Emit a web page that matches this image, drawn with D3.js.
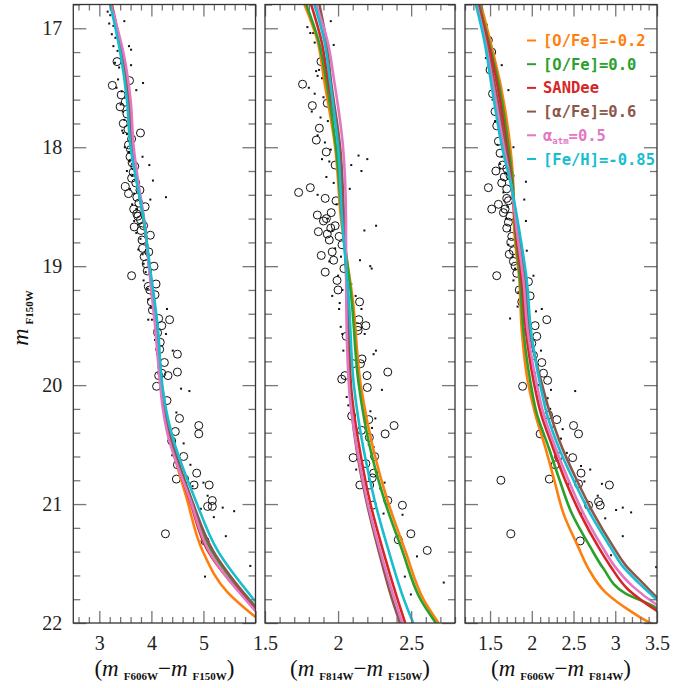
<!DOCTYPE html>
<html>
<head>
<meta charset="utf-8">
<script src="https://cdn.jsdelivr.net/npm/d3@7"></script>
<style>body{margin:0;background:#fff}</style>
</head>
<body>
<div id="chart"></div>
<script>
// モデル名と凡例
var MODELS = ['[O/Fe]=-0.2', '[O/Fe]=0.0', 'SANDee', '[α/Fe]=0.6', 'α_atm=0.5', '[Fe/H]=-0.85'];
var COLORS = ['#ff7f0e', '#2ca02c', '#d62728', '#8c564b', '#e377c2', '#17becf'];

var MAG_TICKS = [17, 18, 19, 20, 21, 22];
var TICKS1 = [3, 4, 5];
var TICKS2 = [1.5, 2, 2.5];
var TICKS3 = [1.5, 2, 2.5, 3, 3.5];

// 等時線 [色, 等級]  パネル1: F606W-F150W
var ISO1 = [
  [[3.22,16.8],[3.42,17.2],[3.55,17.6],[3.62,18.0],[3.73,18.3],[3.85,18.6],[3.96,19.0],[4.10,19.5],[4.19,20.0],[4.25,20.2],[4.34,20.41],[4.69,20.97],[4.98,21.39],[5.46,21.74],[6.0,21.95]],
  [[3.22,16.8],[3.42,17.2],[3.55,17.6],[3.62,18.0],[3.73,18.3],[3.85,18.6],[3.96,19.0],[4.10,19.5],[4.19,20.0],[4.26,20.2],[4.36,20.41],[4.77,20.97],[5.15,21.39],[6.0,21.86]],
  [[3.24,16.8],[3.43,17.2],[3.56,17.6],[3.63,18.0],[3.73,18.3],[3.85,18.6],[3.96,19.0],[4.09,19.5],[4.18,20.0],[4.24,20.2],[4.33,20.41],[4.74,20.97],[5.08,21.39],[6.0,21.88]],
  [[3.22,16.8],[3.42,17.2],[3.55,17.6],[3.62,18.0],[3.73,18.3],[3.85,18.6],[3.96,19.0],[4.10,19.5],[4.20,20.0],[4.27,20.2],[4.36,20.41],[4.78,20.97],[5.18,21.39],[6.0,21.87]],
  [[3.22,16.8],[3.46,17.2],[3.60,17.6],[3.66,18.0],[3.75,18.3],[3.86,18.6],[3.95,19.0],[4.07,19.5],[4.17,20.0],[4.22,20.2],[4.31,20.41],[4.75,20.97],[5.10,21.39],[6.0,21.9]],
  [[3.21,16.8],[3.40,17.2],[3.53,17.6],[3.60,18.0],[3.72,18.3],[3.85,18.6],[3.97,19.0],[4.12,19.5],[4.21,20.0],[4.28,20.2],[4.39,20.41],[4.85,20.97],[5.27,21.39],[6.0,21.82]]
];
// パネル2: F814W-F150W
var ISO2 = [
  [[1.770,16.8],[1.858,17.1],[1.905,17.44],[1.980,18.0],[2.020,18.6],[2.101,19.29],[2.155,20.0],[2.243,20.55],[2.338,20.97],[2.459,21.39],[2.588,21.81],[2.687,22.0]],
  [[1.782,16.8],[1.865,17.1],[1.919,17.44],[1.986,18.0],[2.027,18.6],[2.093,19.29],[2.142,20.0],[2.223,20.55],[2.318,20.97],[2.439,21.39],[2.568,21.81],[2.669,22.0]],
  [[1.816,16.8],[1.885,17.1],[1.932,17.44],[2.007,18.0],[2.034,18.6],[2.068,19.29],[2.088,20.0],[2.149,20.55],[2.216,20.97],[2.307,21.39],[2.409,21.81],[2.459,22.0]],
  [[1.872,16.8],[1.919,17.1],[1.951,17.44],[2.014,18.0],[2.041,18.6],[2.061,19.29],[2.078,20.0],[2.128,20.55],[2.193,20.97],[2.277,21.39],[2.372,21.81],[2.424,22.0]],
  [[1.849,16.8],[1.926,17.1],[1.973,17.44],[2.034,18.0],[2.054,18.6],[2.056,19.29],[2.074,20.0],[2.132,20.55],[2.199,20.97],[2.287,21.39],[2.389,21.81],[2.439,22.0]],
  [[1.838,16.8],[1.905,17.1],[1.944,17.44],[2.000,18.0],[2.027,18.6],[2.074,19.29],[2.108,20.0],[2.176,20.55],[2.250,20.97],[2.345,21.39],[2.453,21.81],[2.514,22.0]]
];
// パネル3: F606W-F814W
var ISO3 = [
  [[1.39,16.8],[1.50,17.1],[1.63,17.49],[1.75,18.05],[1.776,18.28],[1.79,18.7],[1.852,19.12],[1.88,19.54],[1.95,19.96],[2.04,20.24],[2.16,20.52],[2.27,20.8],[2.38,21.08],[2.556,21.36],[2.676,21.54],[2.88,21.74],[3.16,21.89],[3.42,22.0],[3.55,22.04]],
  [[1.37,16.8],[1.48,17.1],[1.61,17.49],[1.73,18.05],[1.77,18.28],[1.80,18.7],[1.86,19.12],[1.90,19.54],[1.98,19.96],[2.06,20.24],[2.20,20.52],[2.334,20.8],[2.48,21.08],[2.70,21.36],[2.856,21.54],[3.12,21.75],[3.46,21.86],[3.55,21.9]],
  [[1.36,16.8],[1.47,17.1],[1.59,17.49],[1.71,18.05],[1.755,18.28],[1.81,18.7],[1.88,19.12],[1.93,19.54],[2.02,19.96],[2.11,20.24],[2.25,20.52],[2.40,20.8],[2.58,21.08],[2.797,21.36],[2.94,21.52],[3.157,21.72],[3.505,21.9],[3.55,21.92]],
  [[1.35,16.8],[1.45,17.1],[1.56,17.49],[1.70,18.05],[1.75,18.28],[1.83,18.7],[1.92,19.12],[1.97,19.54],[2.11,19.96],[2.22,20.24],[2.36,20.52],[2.54,20.8],[2.74,21.08],[2.977,21.36],[3.13,21.52],[3.31,21.65],[3.505,21.79],[3.55,21.82]],
  [[1.34,16.8],[1.44,17.1],[1.54,17.49],[1.68,18.05],[1.745,18.28],[1.82,18.7],[1.90,19.12],[1.95,19.54],[2.05,19.96],[2.14,20.24],[2.28,20.52],[2.44,20.8],[2.62,21.08],[2.845,21.36],[2.99,21.52],[3.206,21.69],[3.505,21.85],[3.55,21.87]],
  [[1.33,16.8],[1.43,17.1],[1.52,17.49],[1.66,18.05],[1.74,18.28],[1.85,18.7],[1.94,19.12],[1.99,19.54],[2.09,19.96],[2.18,20.24],[2.32,20.52],[2.50,20.8],[2.70,21.08],[2.94,21.36],[3.085,21.52],[3.277,21.66],[3.505,21.81],[3.55,21.84]]
];

// 観測点: 白丸と小点
var CIRC1 = [[3.34,17.28],[3.25,17.48],[3.42,17.56],[3.58,17.44],[3.40,17.66],[3.46,17.80],[3.79,17.88],[3.56,17.98],[3.59,18.08],[3.65,18.21],[3.50,18.33],[3.56,18.39],[3.66,18.52],[3.67,18.67],[3.79,18.61],[3.98,18.74],[3.82,18.78],[3.72,18.56],[3.62,19.08],[4.09,19.15],[3.94,19.17],[4.07,19.24],[4.14,19.44],[4.35,19.45],[4.20,19.50],[4.17,19.64],[4.50,19.74],[4.25,19.81],[4.50,19.89],[4.32,19.92],[4.14,19.92],[4.10,20.01],[4.30,20.13],[4.54,20.28],[4.46,20.39],[4.91,20.34],[4.91,20.41],[4.39,20.47],[4.62,20.60],[4.50,20.67],[4.87,20.74],[4.48,20.79],[4.64,20.79],[4.82,20.84],[5.11,20.84],[5.17,20.97],[5.08,21.02],[5.17,21.02],[4.27,21.25],[5.03,21.31],
  [3.50,17.62],[3.53,17.72],[3.55,17.85],[3.62,17.93],[3.60,18.02],[3.63,18.13],[3.68,18.16],[3.62,18.26],[3.70,18.30],[3.72,18.42],[3.76,18.47],[3.74,18.58],[3.80,18.70],[3.83,18.85],[3.86,18.92],[3.90,18.98],[3.88,18.50],[3.78,18.36],[3.85,18.66],[3.92,19.04],[3.97,19.20],[4.00,19.30],[4.02,19.37],[4.12,19.56],[4.16,19.70],[4.20,19.90],[4.05,19.00],[3.95,18.88]];
var DOT1 = [[3.48,16.94],[3.57,17.15],[3.61,17.18],[3.61,17.31],[3.84,17.46],[3.71,17.52],[3.96,18.15],[4.03,18.28],[3.98,18.44],[4.28,18.42],[3.83,18.08],[3.46,17.88],[4.30,19.36],[4.57,20.03],[4.73,20.05],[4.41,19.71],[3.94,19.45],[4.28,19.57],[4.48,20.23],[4.62,20.49],[4.40,20.59],[4.75,20.67],[5.00,20.82],[5.37,21.03],[5.59,21.06],[5.20,21.11],[5.43,21.27],[5.90,21.52],[5.03,21.61],[4.95,21.04],[5.08,20.93],[4.79,20.85],
  [3.16,16.86],[3.21,16.89],[3.19,16.96],[3.27,16.98],[3.24,17.05],[3.31,17.08],[3.27,17.15],[3.35,17.19],[3.30,17.29],[3.38,17.33],[3.36,17.43],[3.33,17.50],[3.43,17.53],[3.41,17.64],[3.45,17.70],[3.48,17.77],[3.44,17.86],[3.53,17.89],[3.49,18.00],[3.57,18.04],[3.58,18.12],[3.53,18.20],[3.63,18.24],[3.59,18.35],[3.67,18.39],[3.63,18.48],[3.71,18.52],[3.67,18.62],[3.75,18.65],[3.71,18.72],[3.79,18.77],[3.75,18.86],[3.83,18.90],[3.85,18.98],[3.89,19.05],[3.85,19.12],[3.93,19.19],[3.94,19.28],[3.99,19.35],[4.01,19.45],[4.06,19.54],[4.07,19.62],[4.11,19.74],[4.14,19.85],[4.19,19.94],[4.22,20.05],[4.27,20.20],[4.31,20.34],[4.38,20.50],[4.45,20.60]];

var CIRC2 = [[1.757,17.47],[1.883,17.28],[1.824,17.65],[1.926,17.63],[1.872,17.84],[1.851,17.94],[1.919,18.04],[1.98,18.15],[1.81,18.34],[1.73,18.38],[1.912,18.43],[1.858,18.57],[1.953,18.55],[1.98,18.66],[1.926,18.73],[2.007,18.75],[1.885,18.91],[1.96,18.88],[1.912,19.05],[1.993,19.12],[2.04,19.02],[1.94,18.78],[1.865,18.71],[1.986,18.45],[2.027,18.82],[1.90,18.62],[1.95,18.68],[1.92,18.60],[1.97,18.95],[2.00,19.20],
  [2.147,19.30],[2.142,19.45],[2.19,19.50],[2.135,19.51],[2.137,19.54],[2.056,19.59],[2.164,19.78],[2.153,19.82],[2.103,19.82],[2.34,19.89],[2.047,19.92],[2.025,19.95],[2.198,19.92],[2.20,20.02],[2.093,20.26],[2.21,20.29],[2.383,20.34],[2.322,20.41],[2.16,20.38],[2.214,20.44],[2.103,20.61],[2.25,20.60],[2.19,20.66],[2.243,20.74],[2.234,20.78],[2.149,20.84],[2.216,20.84],[2.34,20.97],[2.44,21.01],[2.236,21.01],[2.498,21.25],[2.412,21.30],[2.61,21.39]];
var DOT2 = [[2.011,19.31],[2.007,19.36],[2.16,19.36],[2.018,19.51],[2.029,19.57],[2.182,19.57],[2.036,19.71],[2.243,19.74],[2.259,19.71],[2.30,20.04],[2.059,20.10],[2.07,20.17],[2.221,20.22],[2.255,20.28],[2.232,20.36],[2.21,20.50],[2.243,20.52],[2.124,20.71],[2.147,20.68],[2.318,20.82],[2.289,20.87],[2.311,21.08],[2.363,21.06],[2.441,21.09],[2.54,21.44],[2.457,21.61],[2.723,21.66],[2.498,21.76],
  [1.79,16.99],[1.81,17.04],[1.83,17.04],[1.84,17.12],[1.88,17.18],[1.95,16.94],[1.97,17.14],[1.87,17.35],[1.85,17.36],[1.86,17.40],[1.89,17.42],[1.80,17.50],[1.84,17.55],[1.90,17.58],[1.82,17.70],[1.88,17.75],[1.93,17.78],[1.86,17.90],[1.91,17.96],[1.95,18.02],[1.89,18.10],[1.94,18.12],[2.00,18.20],[1.92,18.25],[1.97,18.30],[1.86,18.40],[1.99,18.48],[2.05,18.52],[1.93,18.60],[2.02,18.62],[1.96,18.70],[2.04,18.78],[1.98,18.85],[2.02,18.92],[1.94,18.96],[2.06,19.00],[2.00,19.08],[2.09,19.15],[2.03,19.20],[1.96,19.25],[2.20,18.10],[2.16,18.20],[2.26,18.66],[2.08,18.35],[2.22,19.00],[2.15,18.95],[2.12,19.25],[2.14,18.07],[2.09,18.15],[2.23,19.02],[2.18,18.70]];

var CIRC3 = [[1.48,18.34],[1.52,18.52],[1.58,19.08],[1.68,18.52],[1.72,18.63],[1.76,18.75],[1.78,18.87],[1.78,18.96],[1.70,18.43],[1.96,19.13],[1.98,19.25],[2.18,19.45],[2.04,19.50],[2.06,19.59],[2.12,19.81],[2.14,19.90],[2.19,19.96],[1.89,20.01],[2.30,20.29],[2.20,20.25],[2.50,20.34],[2.56,20.41],[2.10,20.41],[2.49,20.61],[2.28,20.67],[2.32,20.60],[2.59,20.74],[2.21,20.79],[1.63,20.80],[2.56,20.83],[2.93,20.84],[2.68,21.01],[2.80,20.98],[2.82,21.01],[1.75,21.25],[2.58,21.31],
  [1.50,17.35],[1.53,17.55],[1.56,17.70],[1.58,17.82],[1.60,17.95],[1.62,18.05],[1.65,18.15],[1.67,18.25],[1.64,18.30],[1.70,18.35],[1.72,18.45],[1.66,18.55],[1.74,18.58],[1.70,18.68],[1.75,18.80],[1.73,18.90],[1.80,19.00],[1.82,19.06],[1.85,19.20],[1.88,19.30],[1.92,19.40],[1.95,19.55],[2.00,19.65],[2.02,19.75],[1.52,17.20],[1.48,17.10],[1.60,18.48],[1.57,18.20],[1.74,18.24],[1.70,18.18]];
var DOT3 = [[1.93,18.29],[1.91,18.44],[1.93,18.62],[1.94,18.87],[2.02,19.08],[1.74,19.44],[1.83,19.34],[2.12,19.36],[2.05,19.38],[2.11,19.71],[2.23,20.04],[2.19,20.11],[2.52,20.05],[2.37,20.37],[2.42,20.57],[2.59,20.68],[2.70,20.71],[2.44,20.83],[2.63,20.81],[2.84,20.83],[2.79,20.93],[3.01,21.05],[3.09,21.03],[3.19,21.07],[2.88,21.12],[3.09,21.27],[2.59,21.08],[2.95,21.43],[3.49,21.53],
  [1.46,16.97],[1.54,17.21],[1.64,17.31],[1.72,17.52],[1.66,17.75],[1.72,17.94],[1.78,18.00],[1.62,18.14],
  [1.38,16.85],[1.40,16.92],[1.42,16.98],[1.44,17.05],[1.47,17.12],[1.49,17.18],[1.45,17.25],[1.52,17.28],[1.50,17.40],[1.55,17.45],[1.53,17.60],[1.58,17.65],[1.56,17.78],[1.61,17.88],[1.59,17.98],[1.64,18.08],[1.62,18.18],[1.68,18.22],[1.66,18.38],[1.71,18.50],[1.69,18.60],[1.74,18.70],[1.72,18.82],[1.77,18.92],[1.80,19.02],[1.78,19.12],[1.84,19.22],[1.86,19.30],[1.90,19.45],[1.94,19.50],[1.97,19.62],[2.00,19.80],[2.04,19.90],[2.08,20.00],[2.15,20.15],[2.22,20.20],[2.26,20.35],[2.35,20.45]];

var SUB1 = ['F606W', 'F150W'];
var SUB2 = ['F814W', 'F150W'];
var SUB3 = ['F606W', 'F814W'];

(function () {
    'use strict';
    var W = 673, H = 688, top = 4.5, bot = 623;
    var SERIF = 'Liberation Serif, Times New Roman, serif';

    var svg = d3.select('#chart').append('svg')
        .attr('width', W).attr('height', H).style('background', '#fff');

    var y = d3.scaleLinear().domain([16.8, 22]).range([top, bot]);

    var panels = [
        {x0: 73.3, x1: 255.5, dom: [2.5, 6.0], minor: 0.2, major: 1, labels: TICKS1, iso: ISO1, circ: CIRC1, dots: DOT1, sub: SUB1},
        {x0: 265, x1: 455, dom: [1.5, 2.8], minor: 0.1, major: 0.5, labels: TICKS2, iso: ISO2, circ: CIRC2, dots: DOT2, sub: SUB2},
        {x0: 465, x1: 657, dom: [1.2, 3.5], minor: 0.1, major: 0.5, labels: TICKS3, iso: ISO3, circ: CIRC3, dots: DOT3, sub: SUB3}
    ];

    function ticksBetween(a, b, step) {
        var out = [];
        for (var v = Math.ceil(a / step - 1e-6) * step; v <= b + 1e-6; v += step) out.push(+v.toFixed(4));
        return out;
    }
    function styleTicks(g) {
        g.select('.domain').remove();
        g.selectAll('.tick line').attr('stroke', '#777').attr('stroke-width', 1.3);
    }

    var magMinor = ticksBetween(16.8, 22, 0.2).filter(function (v) { return Math.abs(v - Math.round(v)) > 1e-6; });
    var magMajor = ticksBetween(16.8, 22, 1);

    panels.forEach(function (p, k) {
        var x = d3.scaleLinear().domain(p.dom).range([p.x0, p.x1]);
        var xMinor = ticksBetween(p.dom[0], p.dom[1], p.minor).filter(function (v) {
            return Math.abs(v / p.major - Math.round(v / p.major)) > 1e-6;
        });
        var xMajor = ticksBetween(p.dom[0], p.dom[1], p.major);

        var clipId = 'clip' + k;
        svg.append('clipPath').attr('id', clipId).append('rect')
            .attr('x', p.x0).attr('y', top).attr('width', p.x1 - p.x0).attr('height', bot - top);
        var g = svg.append('g').attr('clip-path', 'url(#' + clipId + ')');

        // 小点
        g.selectAll(null).data(p.dots).enter().append('rect')
            .attr('x', function (d) { return x(d[0]) - 1; })
            .attr('y', function (d) { return y(d[1]) - 1; })
            .attr('width', 2).attr('height', 2).attr('fill', '#111');
        // 白丸
        g.selectAll(null).data(p.circ).enter().append('circle')
            .attr('cx', function (d) { return x(d[0]); })
            .attr('cy', function (d) { return y(d[1]); })
            .attr('r', 4).attr('fill', 'none').attr('stroke', '#111').attr('stroke-width', 1);

        // 等時線 (等級方向に単調なので monotoneY)
        var line = d3.line()
            .x(function (d) { return x(d[0]); })
            .y(function (d) { return y(d[1]); })
            .curve(d3.curveMonotoneY);
        p.iso.forEach(function (pts, i) {
            g.append('path').datum(pts).attr('d', line)
                .attr('fill', 'none').attr('stroke', COLORS[i]).attr('stroke-width', 2.6)
                .attr('stroke-linejoin', 'round');
        });

        // 目盛り (内向き)
        [[d3.axisBottom, bot], [d3.axisTop, top]].forEach(function (a) {
            svg.append('g').attr('transform', 'translate(0,' + a[1] + ')')
                .call(a[0](x).tickValues(xMinor).tickSize(-6).tickFormat('')).call(styleTicks);
            svg.append('g').attr('transform', 'translate(0,' + a[1] + ')')
                .call(a[0](x).tickValues(xMajor).tickSize(-12).tickFormat('')).call(styleTicks);
        });
        [[d3.axisLeft, p.x0], [d3.axisRight, p.x1]].forEach(function (a) {
            svg.append('g').attr('transform', 'translate(' + a[1] + ',0)')
                .call(a[0](y).tickValues(magMinor).tickSize(-7).tickFormat('')).call(styleTicks);
            svg.append('g').attr('transform', 'translate(' + a[1] + ',0)')
                .call(a[0](y).tickValues(magMajor).tickSize(-13).tickFormat('')).call(styleTicks);
        });

        // 目盛りラベル
        var lab = svg.append('g').attr('transform', 'translate(0,' + bot + ')')
            .call(d3.axisBottom(x).tickValues(p.labels).tickSize(0).tickPadding(13)
                .tickFormat(d3.format('')));
        lab.select('.domain').remove();
        lab.selectAll('text').attr('font-family', SERIF).attr('font-size', 20).attr('fill', '#222');

        // 枠
        svg.append('rect').attr('x', p.x0).attr('y', top)
            .attr('width', p.x1 - p.x0).attr('height', bot - top)
            .attr('fill', 'none').attr('stroke', '#333').attr('stroke-width', 1.3);

        // 軸タイトル
        var t = svg.append('text').attr('x', (p.x0 + p.x1) / 2).attr('y', 676)
            .attr('text-anchor', 'middle').attr('font-family', SERIF)
            .attr('font-size', 23).attr('fill', '#111');
        t.append('tspan').text('(');
        t.append('tspan').attr('font-style', 'italic').text('m');
        t.append('tspan').attr('font-size', 11).attr('font-weight', 'bold')
            .attr('dx', 5).attr('dy', 4).text(p.sub[0]);
        t.append('tspan').attr('dy', -4).text('\u2212');
        t.append('tspan').attr('font-style', 'italic').text('m');
        t.append('tspan').attr('font-size', 11).attr('font-weight', 'bold')
            .attr('dx', 5).attr('dy', 4).text(p.sub[1]);
        t.append('tspan').attr('dy', -4).text(')');

        if (k === 0) {
            var yl = svg.append('g').attr('transform', 'translate(' + p.x0 + ',0)')
                .call(d3.axisLeft(y).tickValues(MAG_TICKS).tickSize(0).tickPadding(11)
                    .tickFormat(d3.format('d')));
            yl.select('.domain').remove();
            yl.selectAll('text').attr('font-family', SERIF).attr('font-size', 20).attr('fill', '#222');
        }
    });

    // 縦軸タイトル
    var yt = svg.append('text').attr('transform', 'translate(28,318) rotate(-90)')
        .attr('text-anchor', 'middle').attr('font-family', SERIF)
        .attr('font-size', 24).attr('fill', '#111');
    yt.append('tspan').attr('font-style', 'italic').text('m');
    yt.append('tspan').attr('font-size', 11).attr('font-weight', 'bold')
        .attr('dx', 4).attr('dy', 5).text('F150W');

    // 凡例
    var MONO = 'DejaVu Sans Mono, monospace';
    MODELS.forEach(function (name, i) {
        var by = 46 + i * 23.7;
        svg.append('line').attr('x1', 527).attr('x2', 536)
            .attr('y1', by - 5.5).attr('y2', by - 5.5)
            .attr('stroke', COLORS[i]).attr('stroke-width', 2);
        var tx = svg.append('text').attr('x', 543).attr('y', by)
            .attr('font-family', MONO).attr('font-size', 15.5).attr('font-weight', 'bold')
            .attr('fill', COLORS[i]);
        var us = name.indexOf('_');
        if (us < 0) {
            tx.text(name);
        } else {
            var eq = name.indexOf('=');
            tx.append('tspan').text(name.slice(0, us));
            tx.append('tspan').attr('font-size', 9).attr('dy', 3).text(name.slice(us + 1, eq));
            tx.append('tspan').attr('dy', -3).text(name.slice(eq));
        }
    });
})();
</script>
</body>
</html>
